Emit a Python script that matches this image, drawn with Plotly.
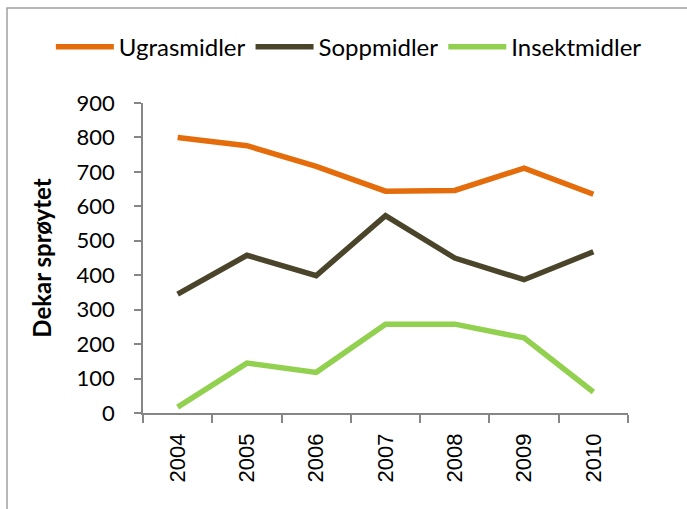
import plotly.graph_objects as go

years = ["2004", "2005", "2006", "2007", "2008", "2009", "2010"]
ugrasmidler = [800, 776, 716, 644, 646, 711, 635]
soppmidler = [345, 458, 399, 573, 450, 387, 468]
insektmidler = [17, 145, 118, 258, 258, 218, 61]

series = [
    ("Ugrasmidler", ugrasmidler, "#E46C0A"),
    ("Soppmidler", soppmidler, "#4A452A"),
    ("Insektmidler", insektmidler, "#92D050"),
]

fig = go.Figure()
for name, vals, col in series:
    fig.add_trace(go.Scatter(
        x=years, y=vals, name=name, mode="lines",
        line=dict(color=col, width=5.5),
    ))

axis_col = "#868686"
fig.update_layout(
    width=687, height=509,
    margin=dict(l=143, r=59, t=103, b=96, autoexpand=False),
    paper_bgcolor="white", plot_bgcolor="white",
    font=dict(family="Lato", size=20, color="black"),
    showlegend=True,
    legend=dict(orientation="h", x=-0.19, xanchor="left", y=1.18, yanchor="middle",
                font=dict(family="Lato", size=24), itemwidth=58,
                bgcolor="rgba(0,0,0,0)", tracegroupgap=0),
    xaxis=dict(
        type="category", range=[-0.5, 6.5], automargin=False,
        showline=True, linecolor=axis_col, linewidth=1.5,
        ticks="outside", tickson="boundaries", ticklen=8, tickcolor=axis_col, tickwidth=1.5,
        tickangle=-90, showgrid=False, zeroline=False,
        ticklabelstandoff=10,
        tickfont=dict(family="Liberation Sans", size=22, color="black"),
    ),
    yaxis=dict(
        range=[0, 900], dtick=100, tick0=0, automargin=False,
        showline=True, linecolor=axis_col, linewidth=1.5,
        ticks="outside", ticklen=7, tickcolor=axis_col, tickwidth=1.5,
        showgrid=False, zeroline=False,
        ticklabelstandoff=15,
        tickfont=dict(family="Lato", size=22, color="black"),
        title=dict(text="<b>Dekar sprøytet</b>", standoff=18,
                   font=dict(family="Lato", size=24, color="black")),
    ),
    shapes=[dict(type="rect", xref="paper", yref="paper",
                 x0=-0.2804, x1=1.2, y0=-0.4, y1=1.3065,
                 line=dict(color="#A0A0A0", width=1.5), fillcolor="rgba(0,0,0,0)",
                 layer="below")],
)

fig.write_html("out.html", config={"displayModeBar": False},
               post_script="document.body.style.margin='0';")
